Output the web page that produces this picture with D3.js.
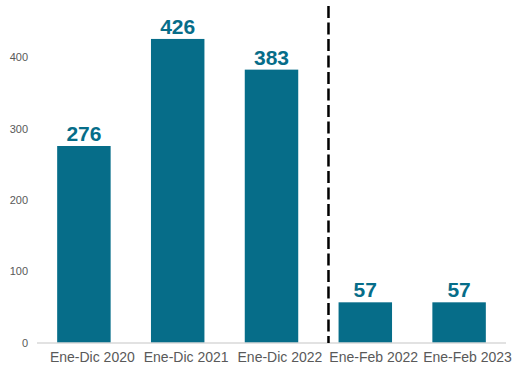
<!DOCTYPE html>
<html><head><meta charset="utf-8">
<script src="https://cdn.jsdelivr.net/npm/d3@7"></script>
<style>body{margin:0;background:#fff;} svg{display:block;font-family:"Liberation Sans",Arial,sans-serif;}</style>
</head><body>
<svg id="chart" width="512" height="367"></svg>
<script>
const categories = ["Ene-Dic 2020","Ene-Dic 2021","Ene-Dic 2022","Ene-Feb 2022","Ene-Feb 2023"];
const values = [276, 426, 383, 57, 57];
const yTicks = [0, 100, 200, 300, 400];
const dividerAfter = "Ene-Dic 2022";

const svg = d3.select("#chart");
const margin = {left: 37, right: 6, top: 10, bottom: 24};
const W = 512, H = 367;
const x = d3.scaleBand().domain(categories).range([margin.left, W - margin.right]).paddingInner(0.43).paddingOuter(0.215);
const y = d3.scaleLinear().domain([0, 400]).range([343, 57.5]);
const barColor = "#066d89";
const grey = "#595959";

// y tick labels
svg.append("g").selectAll("text").data(yTicks).join("text")
  .attr("x", 28).attr("y", d => y(d)).attr("dy", "0.35em")
  .attr("text-anchor", "end").attr("font-size", 11).attr("fill", grey)
  .text(d => d);

// bars
svg.append("g").selectAll("rect").data(categories).join("rect")
  .attr("x", d => x(d)).attr("width", x.bandwidth())
  .attr("y", (d, i) => y(values[i])).attr("height", (d, i) => y(0) - y(values[i]))
  .attr("fill", barColor);

// value labels
svg.append("g").selectAll("text").data(categories).join("text")
  .attr("x", d => x(d) + x.bandwidth() / 2).attr("y", (d, i) => y(values[i]) - 5)
  .attr("text-anchor", "middle").attr("font-size", 21).attr("font-weight", "bold").attr("fill", barColor)
  .text((d, i) => values[i]);

// baseline
svg.append("line").attr("x1", margin.left).attr("x2", W - margin.right)
  .attr("y1", y(0)).attr("y2", y(0)).attr("stroke", "#d9d9d9").attr("stroke-width", 1.5);

// category labels (slightly shifted right of bar centres, as in the original)
const labelShift = x.step() * 0.09;
svg.append("g").selectAll("text").data(categories).join("text")
  .attr("x", d => x(d) + x.bandwidth() / 2 + labelShift).attr("y", 361.5)
  .attr("text-anchor", "middle").attr("font-size", 14).attr("fill", grey)
  .text(d => d);

// dashed divider
const i3 = categories.indexOf(dividerAfter);
const gapStart = x(categories[i3]) + x.bandwidth();
const gapEnd = x(categories[i3 + 1]);
const xDiv = gapStart + (gapEnd - gapStart) * 0.75;
svg.append("line").attr("x1", xDiv).attr("x2", xDiv).attr("y1", 6).attr("y2", y(0))
  .attr("stroke", "#000").attr("stroke-width", 2.5).attr("stroke-dasharray", "12,4.5");
</script>
</body></html>
